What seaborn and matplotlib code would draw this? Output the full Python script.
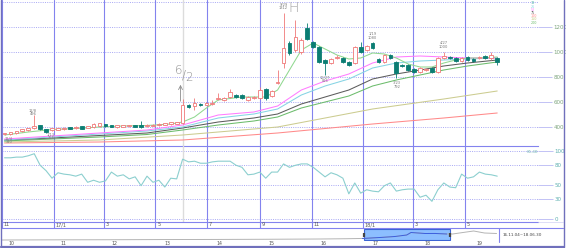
import numpy as np
import pandas as pd
import matplotlib
matplotlib.use("Agg")
import matplotlib.pyplot as plt
import seaborn as sns

sns.set_style("white")
plt.rcParams['font.family'] = ['DejaVu Sans']

# ---------------- data ----------------
first_week = "2016-11-04"
opens = [344, 344, 352, 368, 376, 392, 416, 384, 376, 380,
         384, 400, 392, 408, 396, 400, 408, 424, 416, 400,
         404, 408, 416, 420, 408, 412, 416, 420, 424, 428,
         432, 576, 568, 584, 580, 588, 628, 616, 640, 656,
         656, 616, 632, 632, 704, 648, 752, 912, 1072, 1016,
         1000, 1192, 1080, 1040, 936, 912, 952, 952, 920, 912,
         1040, 1016, 1072, 944, 920, 976, 920, 896, 896, 864,
         840, 856, 872, 840, 952, 960, 952, 928, 960, 944,
         952, 968, 952, 952]
closes = [352, 360, 368, 384, 392, 408, 384, 360, 392, 392,
          396, 388, 404, 388, 408, 424, 432, 408, 404, 416,
          416, 416, 404, 400, 420, 420, 428, 432, 440, 440,
          576, 560, 592, 576, 592, 596, 636, 632, 680, 640,
          632, 640, 640, 696, 632, 688, 760, 1032, 992, 1120,
          1096, 1104, 1040, 920, 912, 944, 960, 920, 896, 1040,
          1000, 1048, 1032, 920, 976, 952, 832, 888, 856, 840,
          872, 864, 840, 952, 968, 952, 928, 952, 936, 928,
          960, 952, 976, 920]
highs = [356, 364, 372, 388, 396, 496, 420, 388, 396, 396,
         400, 404, 408, 412, 412, 432, 436, 428, 420, 420,
         420, 420, 420, 448, 424, 424, 432, 436, 444, 444,
         624, 584, 632, 592, 600, 616, 672, 640, 704, 664,
         664, 648, 648, 720, 712, 696, 856, 1312, 1090, 1256,
         1112, 1232, 1092, 1048, 944, 952, 976, 960, 928, 1048,
         1080, 1056, 1080, 952, 984, 984, 928, 904, 904, 872,
         880, 872, 880, 960, 1000, 968, 960, 960, 968, 952,
         968, 976, 1000, 960]
lows = [340, 340, 348, 364, 372, 388, 380, 356, 372, 376,
        380, 384, 388, 384, 392, 396, 404, 404, 400, 396,
        400, 404, 400, 396, 404, 408, 412, 416, 420, 424,
        428, 552, 536, 568, 576, 576, 616, 608, 632, 632,
        624, 608, 624, 624, 616, 640, 744, 872, 980, 1000,
        988, 1096, 1032, 910, 816, 904, 944, 912, 888, 904,
        992, 1008, 1024, 912, 912, 944, 792, 880, 848, 832,
        832, 848, 832, 832, 944, 944, 920, 920, 928, 920,
        944, 944, 936, 896]

# moving averages, read at selected weeks (index into the weekly candles)
ma_idx_fine = [0, 4, 8, 12, 16, 20, 24, 28, 30, 32, 34, 36, 40, 44, 46, 48, 50,
               52, 54, 56, 58, 60, 62, 64, 66, 68, 70, 72, 74, 76, 78, 80, 83]
ma_short = [336, 360, 380, 388, 400, 408, 412, 424, 440, 480, 552, 616, 640, 640, 696, 856, 1016,
            1072, 1024, 976, 944, 952, 992, 984, 952, 904, 880, 880, 912, 936, 952, 952, 960]
ma_idx_mid = [0, 8, 16, 24, 30, 36, 42, 46, 50, 54, 58, 62, 66, 70, 74, 78, 83]
ma_magenta = [304, 328, 352, 376, 416, 496, 520, 568, 696, 768, 824, 912, 960, 968, 960, 952, 952]
ma_cyan = [296, 320, 344, 368, 400, 472, 504, 544, 656, 728, 784, 872, 912, 928, 936, 944, 952]
ma_gray = [296, 312, 332, 352, 392, 440, 472, 504, 584, 640, 696, 784, 824, 856, 888, 912, 936]
ma_green = [288, 304, 320, 340, 376, 416, 448, 480, 552, 600, 648, 728, 776, 816, 856, 888, 920]
ma_idx_long = [0, 16, 30, 46, 62, 74, 83]
ma_olive = [280, 296, 336, 400, 544, 624, 688]
ma_red = [272, 280, 296, 352, 424, 472, 512]

rsi = [90, 90, 91, 91, 93, 96, 79, 71, 60, 68,
       66, 65, 63, 66, 54, 57, 54, 56, 69, 63,
       65, 59, 62, 49, 63, 54, 57, 47, 60, 59,
       88, 84, 85, 82, 82, 84, 85, 85, 85, 79,
       76, 65, 66, 69, 60, 69, 69, 81, 76, 79,
       81, 81, 76, 69, 62, 68, 65, 60, 37, 53,
       38, 43, 41, 40, 49, 53, 41, 43, 44, 44,
       32, 35, 26, 43, 53, 47, 46, 66, 60, 62,
       69, 66, 65, 63]

nav_dates = ['2009-11-20', '2011-01-01', '2012-01-01', '2013-01-01', '2014-01-01',
             '2015-01-01', '2016-01-01', '2016-07-01', '2016-10-25', '2017-02-25',
             '2017-06-10', '2017-09-01', '2017-10-01', '2017-11-20', '2018-01-08',
             '2018-03-18', '2018-06-10', '2018-07-20', '2018-10-01', '2018-12-15',
             '2019-03-01', '2019-05-25']
nav_vals = [120, 140, 150, 170, 180, 200, 230, 260, 290, 395,
            505, 670, 945, 890, 835, 840, 780, 780, 945, 1110, 890, 835]

price_ticks = [400, 600, 800, 1000, 1200]
rsi_ticks = [0, 30, 50, 80, 100]
month_labels = ["11", "17/1", "3", "5", "7", "9", "11", "18/1", "3", "5"]
year_labels = ["10", "11", "12", "13", "14", "15", "16", "17", "18", "19"]
ma_legend = ["13", "26", "52", "75", "100", "150", "200"]

# ---------------- layout ----------------
W, H = 566, 248
fig = plt.figure(figsize=(W / 100, H / 100), dpi=100)
fig.patch.set_facecolor("white")


def rect(x0, y0, x1, y1):
    return [x0 / W, 1 - y1 / H, (x1 - x0) / W, (y1 - y0) / H]


MAIN_BOT = 146
x_left = pd.Timestamp("2016-11-01")
x_right = x_left + pd.Timedelta(days=536 / 0.848)

ax = fig.add_axes(rect(2, 0, 538, MAIN_BOT))
ax_r = fig.add_axes(rect(2, MAIN_BOT, 538, 222))
ax_l = fig.add_axes(rect(2, 222, 538, 228))
ax_n = fig.add_axes(rect(2, 228, 497, 241))
ov = fig.add_axes([0, 0, 1, 1])
ov.set_xlim(0, W)
ov.set_ylim(H, 0)
ov.axis("off")
ov.patch.set_alpha(0)
ov.set_zorder(10)

dates = pd.date_range(first_week, periods=len(opens), freq="7D")
month_lines = pd.date_range("2016-11-01", "2018-05-01", freq="2MS")
d62 = pd.Timestamp("2017-06-02")

VCOL = "#8383ee"
HCOL = "#a8a8f4"
GRID_LS = (0, (1, 1.3))

# ---------------- main price panel ----------------
for v in price_ticks + [1400]:
    ax.axhline(v, color=HCOL, lw=0.7, ls=GRID_LS, zorder=0)
for d in month_lines:
    ax.axvline(d, color=VCOL, lw=0.8, zorder=0)
ax.axvline(d62, color="#dcdcdc", lw=1.0, zorder=0)

ma_sets = [
    (ma_idx_long, ma_red, "#ff8a8a"),
    (ma_idx_long, ma_olive, "#cccc90"),
    (ma_idx_mid, ma_green, "#6cbc6c"),
    (ma_idx_mid, ma_gray, "#5c5c5c"),
    (ma_idx_mid, ma_cyan, "#86d4e4"),
    (ma_idx_mid, ma_magenta, "#ff7cff"),
    (ma_idx_fine, ma_short, "#90d890"),
]
for idx, vals, col in ma_sets:
    d = pd.DataFrame({"date": dates[idx], "v": vals})
    sns.lineplot(data=d, x="date", y="v", ax=ax, color=col, lw=0.75, zorder=2)

df = pd.DataFrame(dict(date=dates, open=opens, close=closes, high=highs, low=lows))
UPC = "#f07878"
DNC = "#0b7d73"
for is_up, col in [(True, UPC), (False, DNC)]:
    sub = df[(df.close >= df.open) == is_up]
    ax.vlines(sub.date, sub.low, sub.high, color=col, lw=0.6, zorder=3)
    body = (sub.close - sub.open).abs().clip(lower=4)
    ax.bar(sub.date, body, bottom=np.minimum(sub.open, sub.close), width=4.4,
           facecolor="white" if is_up else col, edgecolor=col, linewidth=0.6, zorder=4)

ax.set_xlim(x_left, x_right)
ax.set_ylim(1416 - 8 * MAIN_BOT, 1416)
ax.set_xticks([])
ax.set_yticks(price_ticks)
ax.yaxis.tick_right()
ax.tick_params(axis="y", length=10, width=0.6, color="#b8b8f4", labelsize=4,
               labelcolor="#7fa67f", pad=1)
ax.set_xlabel("")
ax.set_ylabel("")
for s in ["top", "left", "right"]:
    ax.spines[s].set_visible(False)
ax.spines["bottom"].set_color(VCOL)
ax.spines["bottom"].set_linewidth(0.8)
ax.patch.set_alpha(0)

# ---------------- RSI panel ----------------
for v in rsi_ticks:
    ax_r.axhline(v, color=HCOL, lw=0.7, ls=GRID_LS, zorder=0)
for d in month_lines:
    ax_r.axvline(d, color=VCOL, lw=0.8, zorder=0)
ax_r.axvline(d62, color="#dcdcdc", lw=1.0, zorder=0)
sns.lineplot(data=pd.DataFrame({"date": dates, "rsi": rsi}), x="date", y="rsi",
             ax=ax_r, color="#8ccfcf", lw=0.8, zorder=2)
ax_r.set_xlim(x_left, x_right)
ax_r.set_ylim((219 - 222) / 0.68, (219 - MAIN_BOT) / 0.68)
ax_r.set_xticks([])
ax_r.set_yticks(rsi_ticks)
ax_r.yaxis.tick_right()
ax_r.tick_params(axis="y", length=11, width=0.6, color="#b8b8f4", labelsize=4,
                 labelcolor="#5fb0b0", pad=1)
ax_r.set_xlabel("")
ax_r.set_ylabel("")
for s in ["top", "left", "right"]:
    ax_r.spines[s].set_visible(False)
ax_r.spines["bottom"].set_color(VCOL)
ax_r.spines["bottom"].set_linewidth(0.8)
ax_r.patch.set_alpha(0)
ax_r.text(1.0, (219 - 152) / 0.68, "61.48", transform=ax_r.get_yaxis_transform(),
          fontsize=3, color="#7ab8b8", ha="right", va="center")

# ---------------- month label row ----------------
ax_l.set_xlim(x_left, x_right)
ax_l.set_ylim(0, 1)
for d, lab in zip(month_lines, month_labels):
    ax_l.axvline(d, color=VCOL, lw=0.8)
    ax_l.annotate(lab, (d, 0.5), xytext=(1.2, 0), textcoords="offset points",
                  fontsize=3.6, color="#555555", va="center", ha="left")
ax_l.axis("off")

# ---------------- navigator ----------------
nav = pd.DataFrame({"date": pd.to_datetime(nav_dates), "v": nav_vals})
box0, box1 = pd.Timestamp("2016-11-04"), pd.Timestamp("2018-06-30")
ax_n.axvspan(box0, box1, ymin=0.04, ymax=0.96, facecolor="#8cbeff",
             edgecolor="#3c64d4", lw=0.8, zorder=1)
sns.lineplot(data=nav, x="date", y="v", ax=ax_n, color="#b4b4b4", lw=0.7, zorder=2)
inside = nav[(nav.date >= pd.Timestamp("2016-10-20")) & (nav.date <= pd.Timestamp("2018-06-12"))]
sns.lineplot(data=inside, x="date", y="v", ax=ax_n, color="#3a5ee0", lw=0.7, zorder=3)
for b in (box0, box1):
    ax_n.vlines(b, 430, 900, color="#444444", lw=1.6, zorder=4)
ax_n.set_xlim(pd.Timestamp("2009-11-20"), pd.Timestamp("2019-05-28"))
ax_n.set_ylim(10, 1440)
for k, lab in enumerate(year_labels):
    ax_n.text(pd.Timestamp(f"{2010 + k}-01-01"), -0.16, lab,
              transform=ax_n.get_xaxis_transform(), fontsize=3.4, color="#555555",
              ha="left", va="center")
ax_n.axis("off")

# ---------------- overlay: frame, labels, annotations ----------------
FR = "#7070bc"
ov.plot([1, 563], [228, 228], color=VCOL, lw=0.8)
ov.plot([538, 563], [222, 222], color="#d0d0f4", lw=0.5)
ov.plot([499, 499], [228, 242], color=VCOL, lw=0.8)
ov.plot([1, 1], [0, 247], color=FR, lw=1.0)
ov.plot([563.5, 563.5], [0, 247], color=FR, lw=1.0)
ov.plot([1, 564], [246.5, 246.5], color=FR, lw=1.6)
ov.text(503, 235.5, "16.11.04~18.06.30", fontsize=3, color="#444444", ha="left", va="center")

# MA legend
leg_cols = ["#4cb4a4", "#86d4e4", "#ff7cff", "#5c5c5c", "#ff8a8a", "#c4c47c", "#6cbc6c"]
for k, (lab, c) in enumerate(zip(ma_legend, leg_cols)):
    ov.text(531, 3.5 + k * 3.2, lab, fontsize=2.4, color=c, ha="left", va="center")

# 6/2 mark
ov.text(178.5, 70, "6", fontsize=8.5, color="#8c8c8c", ha="center", va="center", fontweight="light")
ov.text(184.2, 74, "/", fontsize=8.5, color="#8c8c8c", ha="center", va="center", fontweight="light")
ov.text(188.5, 77, "2", fontsize=8.5, color="#8c8c8c", ha="center", va="center", fontweight="light")
ov.annotate("", xy=(180.5, 82), xytext=(180.5, 104),
            arrowprops=dict(arrowstyle="->", color="#8c8c8c", lw=0.6, mutation_scale=7))

# high marker
ov.text(294, 8.5, "H", fontsize=10, color="#a0a0a0", ha="center", va="center", fontweight="light")

small = dict(fontsize=2.6, color="#7a7a7a", ha="center", va="center", linespacing=0.95)
ov.text(283.5, 6.5, "9/29\n1312", **small)
ov.text(33, 112.5, "12/8\n496", **small)
ov.text(9, 140.5, "11/4\n340", **small)
ov.text(51, 136.5, "1/13\n356", **small)
ov.text(325, 79.5, "10/27\n816", **small)
ov.text(372.5, 36, "1/19\n1080", **small)
ov.text(397, 85, "3/23\n792", **small)
ov.text(443.5, 45, "4/27\n1000", **small)

fig.savefig("out.png", dpi=100, facecolor="white")
